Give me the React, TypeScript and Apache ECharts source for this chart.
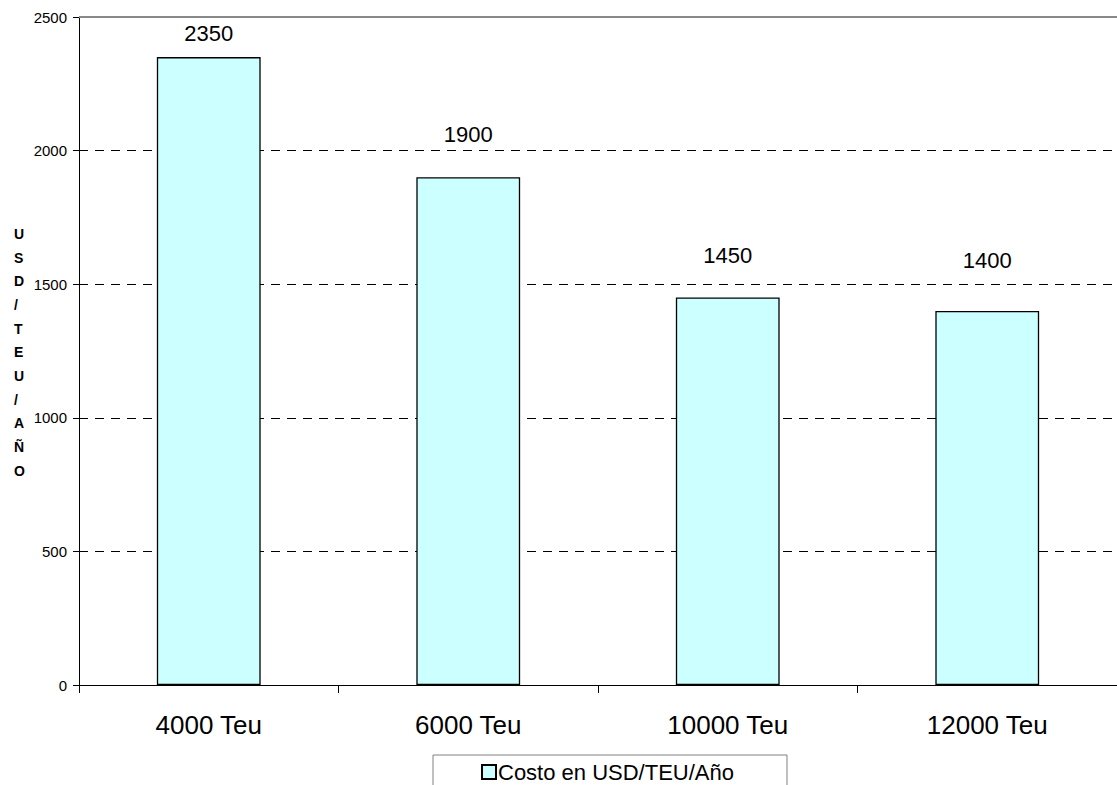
import React, { useEffect, useRef } from "react";
import * as echarts from "echarts";

const categories = ["4000 Teu", "6000 Teu", "10000 Teu", "12000 Teu"];
const costValues = [2350, 1900, 1450, 1400];
const seriesName = "Costo en USD/TEU/Año";
const yAxisTitle = ["U", "S", "D", "/", "T", "E", "U", "/", "A", "Ñ", "O"];

// gap (px) between each bar top and its value label
const labelGaps = [13, 32, 31, 39];

const FONT = "Arial, 'Liberation Sans', sans-serif";

export default function App() {
  const ref = useRef<HTMLDivElement>(null);

  useEffect(() => {
    if (!ref.current) return;
    const chart = echarts.init(ref.current, undefined, { renderer: "svg" });
    chart.setOption({
      animation: false,
      backgroundColor: "#ffffff",
      textStyle: { fontFamily: FONT },
      grid: { left: 79, right: 0, top: 17, bottom: 100 },
      legend: {
        data: [{ name: seriesName, icon: "rect" }],
        left: 433,
        top: 755,
        padding: [6, 53, 30, 48],
        borderColor: "#808080",
        borderWidth: 1,
        itemWidth: 14,
        itemHeight: 14,
        textStyle: { fontSize: 22, color: "#000", padding: [0, 0, 0, -3] },
      },
      graphic: [
        {
          type: "text",
          left: 14,
          top: 222,
          style: {
            text: yAxisTitle.join("\n"),
            fontSize: 14,
            fontWeight: "bold",
            lineHeight: 23.7,
            fill: "#000",
            align: "center",
            fontFamily: FONT,
          },
        },
      ],
      xAxis: {
        type: "category",
        data: categories,
        axisLine: { lineStyle: { color: "#000", width: 1 } },
        axisTick: { show: true, length: 8, lineStyle: { color: "#000" } },
        axisLabel: { fontSize: 26, color: "#000", margin: 27 },
      },
      yAxis: {
        type: "value",
        min: 0,
        max: 2500,
        interval: 500,
        axisLine: { show: true, lineStyle: { color: "#000", width: 1 } },
        axisTick: { show: true, length: 6, lineStyle: { color: "#000" } },
        axisLabel: {
          fontSize: 15,
          color: "#000",
          margin: 12,
          formatter: (v: number) => String(v),
        },
        splitLine: {
          show: true,
          lineStyle: { color: "#000", type: [9, 7], width: 1 },
        },
      },
      series: [
        {
          name: seriesName,
          type: "bar",
          data: costValues.map((v, i) => ({
            value: v,
            label: { distance: labelGaps[i] },
          })),
          barWidth: "40%",
          itemStyle: { color: "#CCFFFF", borderColor: "#000", borderWidth: 1.3 },
          label: {
            show: true,
            position: "top",
            fontSize: 22,
            color: "#000",
          },
          markLine: {
            silent: true,
            symbol: "none",
            label: { show: false },
            lineStyle: { color: "#888888", type: "solid", width: 2 },
            data: [{ yAxis: 2500 }],
          },
        },
      ],
    });
    return () => chart.dispose();
  }, []);

  return (
    <div
      ref={ref}
      style={{ position: "fixed", left: 0, top: 0, width: 1117, height: 785 }}
    />
  );
}
